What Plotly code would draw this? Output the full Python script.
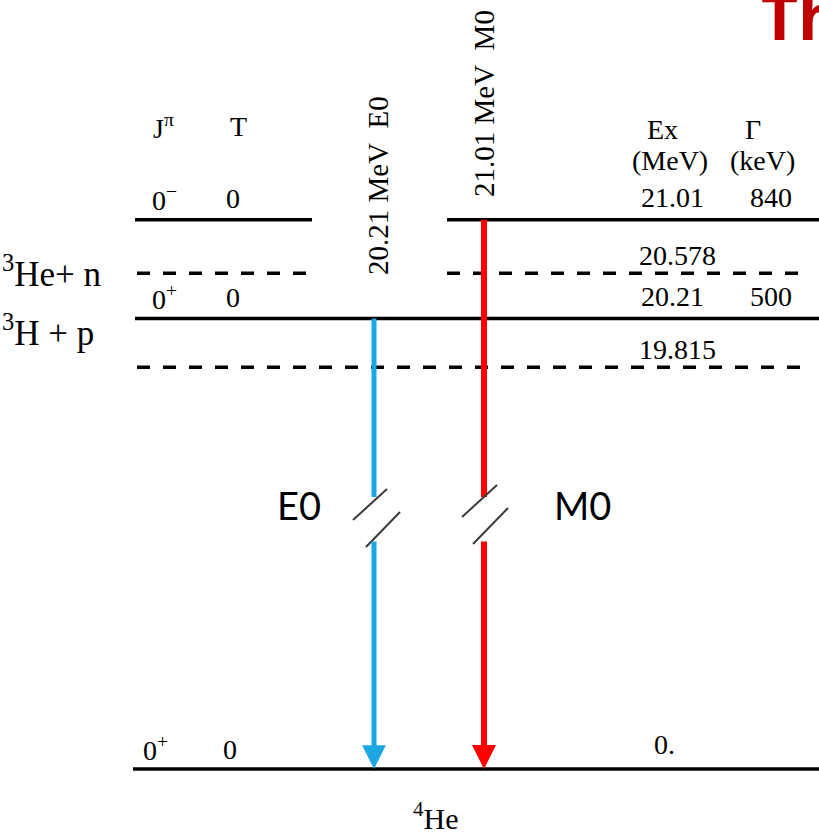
import plotly.graph_objects as go

W, H = 819, 836

# 4He resonances: excitation energy (MeV), spin-parity, isospin, width (keV)
res_energy = [21.01, 20.21]
res_jpi = ["0<sup>−</sup>", "0<sup>+</sup>"]
res_isospin = ["0", "0"]
res_width_kev = [840, 500]

# Particle-emission thresholds (MeV) and channels
thr_energy = [20.578, 19.815]
thr_channel = ["<sup>3</sup>He+ n", "<sup>3</sup>H + p"]

# Ground state
gs_energy = 0.0
gs_jpi = "0<sup>+</sup>"
gs_isospin = "0"

# Transitions to the ground state
tr_from = [20.21, 21.01]
tr_mult = ["E0", "M0"]
tr_color = ["#1DA6E4", "#FF0000"]

SERIF = "Liberation Serif"
SANS = "Lato"
FS = 28

# broken energy axis: upper panel for the resonance region, lower for g.s.
TOP_BOTTOM_PX, LOW_TOP_PX = 497, 540
MEV_PX = 123.4
Y2_RANGE = [20.403 - (TOP_BOTTOM_PX - 294.75) / MEV_PX, 20.403 + 294.75 / MEV_PX]
Y1_RANGE = [-(H - 769) / MEV_PX, (769 - LOW_TOP_PX) / MEV_PX]


def py(px):
    return 1 - px / H


fig = go.Figure()

# level lines broken around the vertical transition label
gap = (312, 447)
for e in res_energy:
    xs = [135, gap[0], None, gap[1], 819] if e > tr_from[0] else [135, 819]
    fig.add_trace(go.Scatter(x=xs, y=[e] * len(xs), yaxis="y2", mode="lines",
                             line=dict(color="black", width=3.5),
                             hoverinfo="skip", connectgaps=False))
for e in thr_energy:
    xs = [137, gap[0], None, gap[1], 808] if e > tr_from[0] else [137, 808]
    fig.add_trace(go.Scatter(x=xs, y=[e] * len(xs), yaxis="y2", mode="lines",
                             line=dict(color="black", width=3.5, dash="13px,13px"),
                             hoverinfo="skip", connectgaps=False))
fig.add_trace(go.Scatter(x=[133, 819], y=[gs_energy, gs_energy], yaxis="y",
                         mode="lines", line=dict(color="black", width=3.5),
                         hoverinfo="skip"))

# upper part of the transition arrows
tr_x = [374, 484]
tr_w = [5, 6]
for e, x, c, w in zip(tr_from, tr_x, tr_color, tr_w):
    fig.add_trace(go.Scatter(x=[x, x], y=[e, Y2_RANGE[0]], yaxis="y2", mode="lines",
                             line=dict(color=c, width=w), hoverinfo="skip"))

ann = []
# lower part of the arrows, ending on the ground state
for x, c, w, hs in zip(tr_x, tr_color, tr_w, [0.95, 0.8]):
    ann.append(dict(x=x, y=gs_energy, xref="x", yref="y", ax=x, ay=Y1_RANGE[1],
                    axref="x", ayref="y", text="", showarrow=True, arrowhead=2,
                    arrowsize=hs, arrowwidth=w, arrowcolor=c, standoff=0))

# axis-break slashes
shapes = []
for x0, y0, x1, y1 in [(353, 520, 387, 489), (366, 547, 400, 512),
                       (462, 517, 497, 485), (473, 544, 508, 508)]:
    shapes.append(dict(type="line", xref="x", yref="paper", x0=x0, x1=x1,
                       y0=py(y0), y1=py(y1), line=dict(color="#3a3a3a", width=2)))


def text(t, x, y, yref="paper", yshift=0, size=FS, xanchor="center",
         family=SERIF, color="black", angle=0, weight="normal"):
    ann.append(dict(text=t, x=x, y=y, xref="x", yref=yref, yshift=yshift,
                    xanchor=xanchor, yanchor="middle", showarrow=False,
                    textangle=angle,
                    font=dict(family=family, size=size, color=color, weight=weight)))


# column headers
text("J<sup>π</sup>", 163, py(127), size=28)
text("T", 238, py(126), size=28)
text("Ex", 662, py(130))
text("Γ", 753, py(130))
text("(MeV)", 670, py(160))
text("(keV)", 762, py(160))

# resonance labels
for e, j, t, g in zip(res_energy, res_jpi, res_isospin, res_width_kev):
    text(j, 150, e, yref="y2", yshift=21, xanchor="left")
    text(t, 233, e, yref="y2", yshift=21)
    text(f"{e:.2f}", 672, e, yref="y2", yshift=22)
    text(f"{g}", 771, e, yref="y2", yshift=22)

# threshold labels
for e, ch, dy in zip(thr_energy, thr_channel, [2, 37]):
    text(f"{e:.3f}", 677, e, yref="y2", yshift=18)
    text(ch, 0, e, yref="y2", yshift=dy, size=35, xanchor="left")

# ground-state labels
text(gs_jpi, 141, gs_energy, yref="y", yshift=21, xanchor="left")
text(gs_isospin, 230, gs_energy, yref="y", yshift=20)
text(f"{gs_energy:.0f}.", 664, gs_energy, yref="y", yshift=25)
text("<sup>4</sup>He", 435, py(816), size=30)

# transition labels
text(f"{tr_from[0]:.2f} MeV&nbsp;&nbsp;{tr_mult[0]}", 378, py(186), size=29, angle=-90)
text(f"{tr_from[1]:.2f} MeV&nbsp;&nbsp;{tr_mult[1]}", 484, py(104), size=29, angle=-90)
text(tr_mult[0], 299, py(505), size=38, family=SANS)
text(tr_mult[1], 582, py(505), size=38, family=SANS)

# slide title, running off the page
text("Th", 759, py(16), size=64, family="Open Sans", color="#C00000",
     xanchor="left", weight="bold")

fig.update_layout(
    width=W, height=H, margin=dict(l=0, r=0, t=0, b=0),
    paper_bgcolor="white", plot_bgcolor="white", showlegend=False,
    xaxis=dict(range=[0, W], visible=False, domain=[0, 1]),
    yaxis=dict(range=Y1_RANGE, visible=False, domain=[0, py(LOW_TOP_PX)]),
    yaxis2=dict(range=Y2_RANGE, visible=False, domain=[py(TOP_BOTTOM_PX), 1],
                anchor="x"),
    annotations=ann, shapes=shapes,
)

fig.write_html("out.html")
